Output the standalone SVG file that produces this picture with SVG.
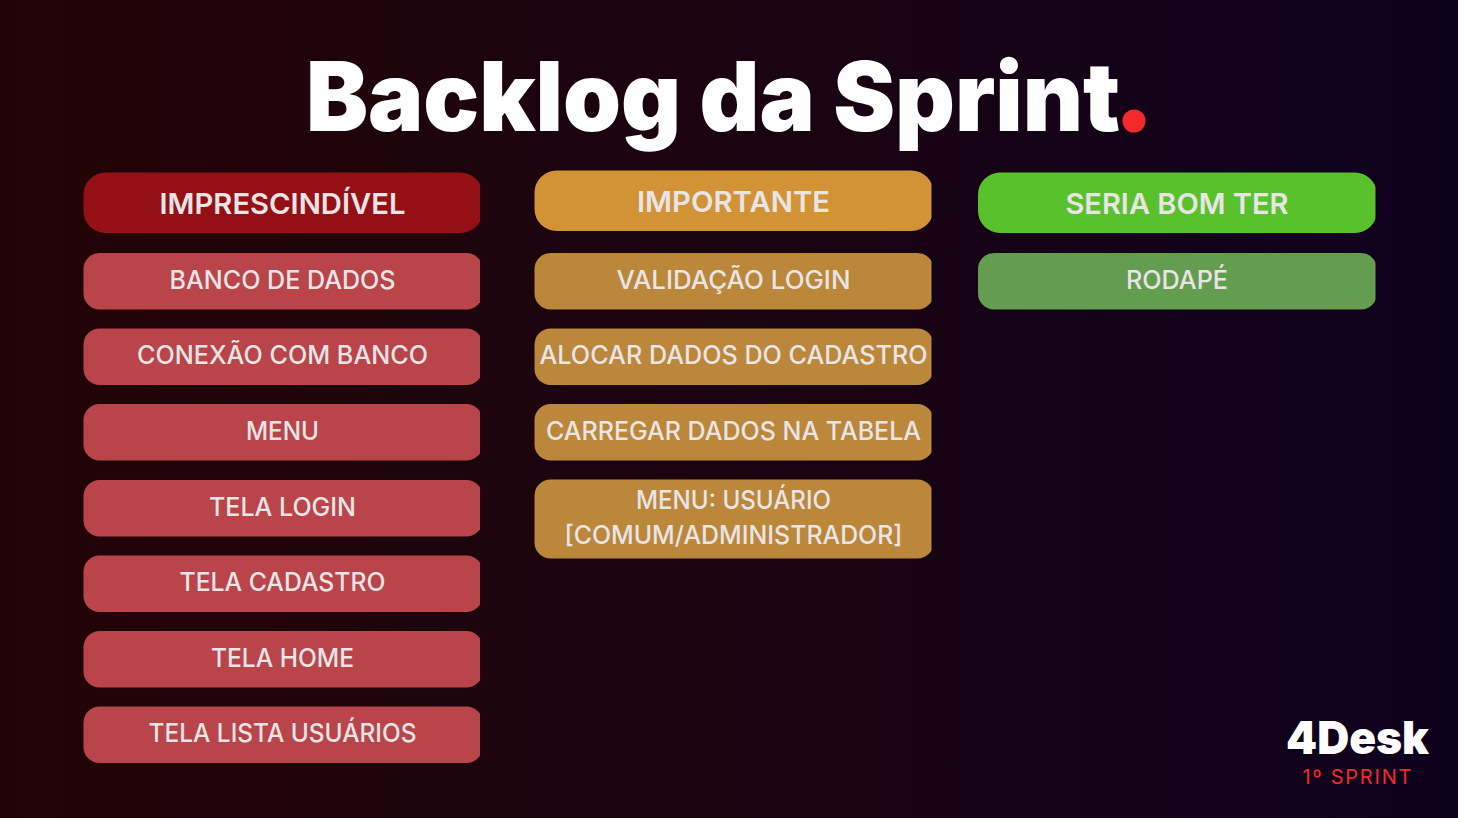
<svg xmlns="http://www.w3.org/2000/svg" width="1458" height="818" viewBox="0 0 1458 818">
<style>
text{font-family:"Inter","Noto Sans","Liberation Sans",sans-serif;text-anchor:middle}
.l{fill:#e9e4e6;font-size:25px;font-weight:550}
.h{fill:#e9e4e6;font-size:29px;font-weight:600}
.r{fill:#b9454a}.rh{fill:#941015}.o{fill:#bb873b}.oh{fill:#d29236}.g{fill:#649d4f}.gh{fill:#58c12c}
.t{font-size:96px;font-weight:900;fill:#fff}
</style>
<defs>
<linearGradient id="bg" x1="0" x2="1" y1="0" y2="0"><stop offset="0" stop-color="#230406"/><stop offset="0.5" stop-color="#1a0410"/><stop offset="1" stop-color="#0e011e"/></linearGradient>
<clipPath id="c1"><rect x="80" y="160" width="400" height="620"/></clipPath>
<clipPath id="c2"><rect x="530" y="160" width="401.500" height="420"/></clipPath>
<clipPath id="c3"><rect x="975" y="160" width="400.500" height="160"/></clipPath>
</defs>
<rect width="1458" height="818" fill="url(#bg)"/>
<g id="title"><text class="t" x="713" y="131" textLength="814" lengthAdjust="spacingAndGlyphs">Backlog da Sprint</text><circle cx="1134" cy="121" r="11.500" fill="#f5282e"/></g>
<g id="col1" clip-path="url(#c1)">
<g id="imprescindivel"><rect class="rh" x="83.500" y="172.500" width="399" height="60.500" rx="22"/><text class="h" x="282.500" y="214" textLength="246" lengthAdjust="spacingAndGlyphs">IMPRESCINDÍVEL</text></g>
<g id="banco"><rect class="r" x="83.500" y="253" width="399" height="56.500" rx="16"/><text class="l" x="282.500" y="289" textLength="226" lengthAdjust="spacingAndGlyphs">BANCO DE DADOS</text></g>
<g id="conexao"><rect class="r" x="83.500" y="328.500" width="399" height="56.500" rx="16"/><text class="l" x="282.500" y="364" textLength="291" lengthAdjust="spacingAndGlyphs">CONEXÃO COM BANCO</text></g>
<g id="menu"><rect class="r" x="83.500" y="404" width="399" height="56.500" rx="16"/><text class="l" x="282.500" y="440" textLength="73" lengthAdjust="spacingAndGlyphs">MENU</text></g>
<g id="login"><rect class="r" x="83.500" y="480" width="399" height="56.500" rx="16"/><text class="l" x="282.500" y="516" textLength="147" lengthAdjust="spacingAndGlyphs">TELA LOGIN</text></g>
<g id="cadastro"><rect class="r" x="83.500" y="555.500" width="399" height="56.500" rx="16"/><text class="l" x="282.500" y="591" textLength="206" lengthAdjust="spacingAndGlyphs">TELA CADASTRO</text></g>
<g id="home"><rect class="r" x="83.500" y="631" width="399" height="56.500" rx="16"/><text class="l" x="282.500" y="667" textLength="143" lengthAdjust="spacingAndGlyphs">TELA HOME</text></g>
<g id="lista"><rect class="r" x="83.500" y="706.500" width="399" height="56.500" rx="16"/><text class="l" x="282.500" y="742" textLength="268" lengthAdjust="spacingAndGlyphs">TELA LISTA USUÁRIOS</text></g>
</g>
<g id="col2" clip-path="url(#c2)">
<g id="importante"><rect class="oh" x="534.500" y="170.500" width="399" height="60.500" rx="22"/><text class="h" x="733.500" y="212" textLength="193" lengthAdjust="spacingAndGlyphs">IMPORTANTE</text></g>
<g id="validacao"><rect class="o" x="534.500" y="253" width="399" height="56.500" rx="16"/><text class="l" x="733.500" y="289" textLength="234" lengthAdjust="spacingAndGlyphs">VALIDAÇÃO LOGIN</text></g>
<g id="alocar"><rect class="o" x="534.500" y="328.500" width="399" height="56.500" rx="16"/><text class="l" x="733.500" y="364" textLength="388" lengthAdjust="spacingAndGlyphs">ALOCAR DADOS DO CADASTRO</text></g>
<g id="carregar"><rect class="o" x="534.500" y="404" width="399" height="56.500" rx="16"/><text class="l" x="733.500" y="440" textLength="375" lengthAdjust="spacingAndGlyphs">CARREGAR DADOS NA TABELA</text></g>
<g id="usuario"><rect class="o" x="534.500" y="479.500" width="399" height="79" rx="16"/><text class="l" x="733.500" y="509" textLength="195" lengthAdjust="spacingAndGlyphs">MENU: USUÁRIO</text><text class="l" x="733.500" y="544" textLength="338" lengthAdjust="spacingAndGlyphs">[COMUM/ADMINISTRADOR]</text></g>
</g>
<g id="col3" clip-path="url(#c3)">
<g id="seria"><rect class="gh" x="978" y="172.500" width="399" height="60.500" rx="22"/><text class="h" x="1177" y="214" textLength="223" lengthAdjust="spacingAndGlyphs">SERIA BOM TER</text></g>
<g id="rodape"><rect class="g" x="978" y="253" width="399" height="56.500" rx="16"/><text class="l" x="1177" y="289" textLength="102" lengthAdjust="spacingAndGlyphs">RODAPÉ</text></g>
</g>
<g id="logo"><text x="1357.500" y="754" font-size="46" font-weight="900" fill="#fff" textLength="143" lengthAdjust="spacingAndGlyphs">4Desk</text><text x="1357" y="784" font-size="20" font-weight="400" fill="#f5282e" textLength="109">1º SPRINT</text></g>
</svg>
